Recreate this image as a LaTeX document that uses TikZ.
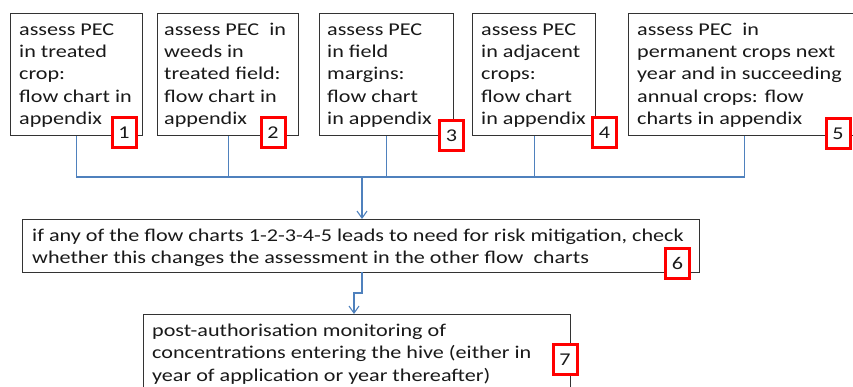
\documentclass[tikz,border=0pt]{standalone}
\usepackage{fontspec}
\setmainfont{Carlito}[FakeStretch=1.23]
\usetikzlibrary{arrows.meta,calc}
\definecolor{conn}{HTML}{4F81BD}
\definecolor{boxline}{HTML}{333333}
\newcommand\firstln{\rule{0pt}{16pt}}
\tikzset{
  box/.style={draw=boxline, line width=1.2pt, fill=white, rectangle, inner sep=0pt, anchor=north west},
  txt/.style={anchor=north west, align=left, inner sep=0pt, font=\fontsize{18}{22.4}\selectfont, text=black!90},
  tag/.style={draw=red, line width=3pt, fill=white, inner sep=0pt, minimum width=24pt, minimum height=30pt, font=\fontsize{18}{20}\selectfont, text=black!90},
  link/.style={draw=conn, line width=1.1pt},
  arr/.style={link, -{Straight Barb[length=7pt,width=10pt,line width=1.1pt]}}
}
\begin{document}
\begin{tikzpicture}[x=1pt,y=-1pt]
\useasboundingbox (0,0) rectangle (853,387);
\begin{scope}
\clip (0,0) rectangle (853,387);
% top boxes
\node[box, minimum width=132pt, minimum height=122pt] (b1) at (10,13) {};
\node[box, minimum width=141pt, minimum height=122pt] (b2) at (157,13) {};
\node[box, minimum width=134pt, minimum height=122pt] (b3) at (319,13) {};
\node[box, minimum width=123pt, minimum height=122pt] (b4) at (472,13) {};
\node[box, minimum width=232pt, minimum height=122pt] (b5) at (628,13) {};
\node[box, minimum width=677pt, minimum height=53pt] (b6) at (22,219) {};
\node[box, minimum width=427pt, minimum height=90pt] (b7) at (143,314) {};

\node[txt] (t1) at ($(b1.north west)+(9,6)$) {\firstln assess PEC\\in treated\\crop:\\flow chart in\\appendix};
\node[txt] (t2) at ($(b2.north west)+(7,6)$) {\firstln assess PEC\ \ in\\weeds in\\treated field:\\flow chart in\\appendix};
\node[txt] (t3) at ($(b3.north west)+(8,6)$) {\firstln assess PEC\\in field\\margins:\\flow chart\\in appendix};
\node[txt] (t4) at ($(b4.north west)+(9,6)$) {\firstln assess PEC\\in adjacent\\crops:\\flow chart\\in appendix};
\node[txt] (t5) at ($(b5.north west)+(9,6)$) {\firstln assess PEC\ \ in\\permanent crops next\\year and in succeeding\\annual crops: flow\\charts in appendix};
\node[txt] (t6) at ($(b6.north west)+(10,6)$) {\firstln if any of the flow charts 1-2-3-4-5 leads to need for risk mitigation, check\\whether this changes the assessment in the other flow\ \ charts};
\node[txt] (t7) at ($(b7.north west)+(9,6)$) {\firstln post-authorisation monitoring of\\concentrations entering the hive (either in\\year of application or year thereafter)};

% connectors
\coordinate (j) at (362,177);
\draw[link] (b1.south) |- (j);
\draw[link] (b2.south) |- (j);
\draw[link] (b3.south) |- (j);
\draw[link] (b4.south) |- (j);
\draw[link] (b5.south) |- (j);
\draw[arr] (j) -- (j |- b6.north);
\coordinate (k) at (362,272);
\draw[arr] (k) -- ++(0,21) -| (b7.north -| 354,0);

% tags
\node[tag] (n1) at (124,133) {1};
\node[tag] (n2) at (273,133) {2};
\node[tag] (n3) at (451.5,135.5) {3};
\node[tag] (n4) at (604.5,133) {4};
\node[tag] (n5) at (838,134) {5};
\node[tag] (n6) at (677.5,263.5) {6};
\node[tag] (n7) at (565,359.5) {7};
\end{scope}
\end{tikzpicture}
\end{document}
